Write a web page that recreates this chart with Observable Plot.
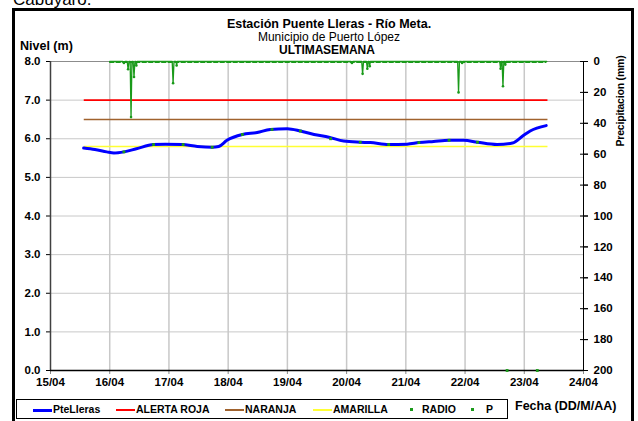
<!DOCTYPE html>
<html><head><meta charset="utf-8">
<script src="https://cdn.jsdelivr.net/npm/d3@7"></script>
<script src="https://cdn.jsdelivr.net/npm/@observablehq/plot@0.6"></script>
<style>
body{margin:0;background:#fff;font-family:"Liberation Sans",Arial,sans-serif;}
#wrap{position:relative;width:638px;height:421px;overflow:hidden;background:#fff;}
#frame{position:absolute;left:12px;top:8px;width:622px;height:440px;border:3px solid #000;box-sizing:border-box;}
.t{position:absolute;white-space:nowrap;color:#000;font-size:11px;line-height:12px;}
.b{font-weight:bold;}
#chart{position:absolute;left:0;top:0;}
#legend{position:absolute;left:16px;top:399px;width:492px;height:20px;border:1px solid #000;box-sizing:border-box;}
.li{position:absolute;top:4px;font-size:10.5px;font-weight:bold;line-height:11px;white-space:nowrap;}
.sw{position:absolute;top:9px;height:2px;width:19px;}
.dot{position:absolute;top:8px;width:3px;height:3px;background:#1a9a1a;}
</style></head>
<body>
<div id="wrap">
  <div class="t" style="left:13px;top:-9px;font-size:17px;line-height:18px;">Cabuyaro.</div>
  <div id="frame"></div>
  <div id="chart"></div>
  <div class="t b" id="title" style="left:209px;top:18px;width:240px;text-align:center;font-size:12.5px;line-height:12px;"></div>
  <div class="t" id="sub1" style="left:209px;top:31px;width:240px;text-align:center;font-size:12px;line-height:12px;"></div>
  <div class="t b" id="sub2" style="left:209px;top:44px;width:236px;text-align:center;font-size:12px;line-height:12px;word-spacing:-3.5px;"></div>
  <div class="t b" id="ylab" style="left:20px;top:40px;font-size:12.5px;line-height:13px;"></div>
  <div class="t b" id="y2lab" style="left:572px;top:95px;width:96px;text-align:center;transform:rotate(-90deg);font-size:10.5px;letter-spacing:-0.2px;"></div>
  <div class="t b" id="xlab" style="left:515px;top:400px;font-size:12.5px;line-height:13px;"></div>
  <div id="legend"></div>
</div>
<script>
// ---- texts ----
const titleText = "Estación Puente Lleras - Río Meta.";
const subtitle1 = "Municipio de Puerto López";
const subtitle2 = "ULTIMA SEMANA";
const yLabel = "Nivel (m)";
const y2Label = "Precipitacion (mm)";
const xLabel = "Fecha (DD/M/AA)";

// ---- ticks ----
const dayTicks = [15, 16, 17, 18, 19, 20, 21, 22, 23, 24];
const xTickLabels = ["15/04","16/04","17/04","18/04","19/04","20/04","21/04","22/04","23/04","24/04"];
const nivelTicks = [0, 1, 2, 3, 4, 5, 6, 7, 8];
const precipTicks = [0, 20, 40, 60, 80, 100, 120, 140, 160, 180, 200];
const precipMax = 200;

// ---- PteLleras level (day of April, metres) ----
const levelDays = [15.56, 15.75, 15.95, 16.07, 16.24, 16.45, 16.74, 16.94, 17.22, 17.48, 17.73, 17.84, 17.98, 18.24, 18.49, 18.71, 19.00, 19.22, 19.45, 19.70, 19.95, 20.23, 20.40, 20.71, 21.02, 21.22, 21.47, 21.73, 21.98, 22.21, 22.54, 22.80, 22.99, 23.10, 23.37];
const levelValues = [5.76, 5.72, 5.66, 5.63, 5.66, 5.74, 5.85, 5.86, 5.85, 5.80, 5.78, 5.80, 5.96, 6.11, 6.16, 6.24, 6.26, 6.20, 6.11, 6.04, 5.94, 5.91, 5.90, 5.85, 5.86, 5.90, 5.93, 5.96, 5.96, 5.91, 5.85, 5.89, 6.09, 6.20, 6.34];

// ---- RADIO readings ----
const radioDays = [16.24, 16.74, 17.24, 17.73, 18.24, 18.74, 19.22, 19.73, 20.23, 20.71, 21.22, 21.73, 22.21, 22.71, 23.22];
const radioValues = [5.66, 5.85, 5.85, 5.78, 6.11, 6.24, 6.20, 6.00, 5.91, 5.85, 5.90, 5.96, 5.91, 0, 0];

// ---- thresholds ----
const thresholdNames = ["ALERTA ROJA", "NARANJA", "AMARILLA"];
const thresholdValues = [7.0, 6.5, 5.8];
const thresholdColors = ["#ff0000", "#a0622d", "#ffff33"];
const thresholdStart = 15.57;
const thresholdEnd = 23.40;

// ---- precipitation P (mm) ----
const pDays = [16.00, 16.22, 16.24, 16.26, 16.295, 16.31, 16.325, 16.345, 16.36, 16.375, 16.395, 16.41, 16.425, 16.44, 16.45, 16.46,
  17.055, 17.07, 17.085, 17.12, 17.13, 17.14,
  20.075, 20.09, 20.105, 20.255, 20.27, 20.285, 20.335, 20.35, 20.365, 20.38, 20.39, 20.40,
  21.875, 21.89, 21.905, 21.94, 21.95, 21.96,
  22.585, 22.60, 22.615, 22.625, 22.64, 22.655, 22.67, 22.68, 22.69, 23.38];
const pValues = [0, 0, 1, 0, 0, 5, 0, 0, 36, 0, 0, 10, 0, 0, 2.6, 0,
  0, 14, 0, 0, 2.6, 0,
  0, 1, 0, 0, 8, 0, 0, 4.7, 0, 0, 3, 0,
  0, 20, 0, 0, 1, 0,
  0, 4.7, 0, 0, 16, 0, 0, 2, 0, 0];
const pStart = 16.0, pEnd = 23.38;

// colours
const blue = "#0000ff", green = "#1a9a1a";

const toNivel = p => 8 - p * 8 / precipMax;
const level = levelDays.map((d, i) => ({d, v: levelValues[i]}));
const radio = radioDays.map((d, i) => ({d, v: radioValues[i]}));
const precip = pDays.map((d, i) => ({d, p: pValues[i]}));
const thresholds = thresholdNames.map((n, i) => ({n, v: thresholdValues[i], c: thresholdColors[i]}));
const xLab = new Map(dayTicks.map((d, i) => [d, xTickLabels[i]]));

const chart = Plot.plot({
  width: 638, height: 400,
  marginLeft: 50, marginRight: 55, marginTop: 61, marginBottom: 30,
  x: {domain: [15, 24], axis: null},
  y: {domain: [0, 8], axis: null},
  style: {fontFamily: "'Liberation Sans', Arial, sans-serif", fontSize: "11.5px", fontWeight: "bold", color: "#000", background: "transparent", overflow: "visible"},
  marks: [
    Plot.gridY(nivelTicks.slice(1, -1), {stroke: "#c8c8c8", strokeOpacity: 1, strokeWidth: 1}),
    Plot.gridX(dayTicks.slice(1, -1), {stroke: "#c8c8c8", strokeOpacity: 1, strokeWidth: 1.5}),
    Plot.ruleY([8], {stroke: "#8c8c8c"}),
    Plot.axisX(dayTicks, {anchor: "bottom", tickFormat: d => xLab.get(d), tickSize: 4, tickPadding: 3, stroke: "#888", label: null}),
    Plot.axisY(nivelTicks, {anchor: "left", tickFormat: d => d.toFixed(1), tickSize: 4, tickPadding: 6, label: null}),
    Plot.axisY(precipTicks.map(toNivel), {anchor: "right", tickFormat: () => "", tickSize: 8, dx: -4, label: null}),
    Plot.axisY(precipTicks.map(toNivel), {anchor: "right", tickFormat: d => String(Math.round((8 - d) * precipMax / 8)), tickSize: 4, tickPadding: 6, label: null}),
    Plot.ruleX([15], {stroke: "#404040", strokeWidth: 1.5}),
    Plot.ruleX([24], {stroke: "#000", strokeWidth: 1}),
    Plot.ruleY([0], {stroke: "#000", strokeWidth: 1.5}),
    Plot.ruleY(thresholds, {y: "v", x1: thresholdStart, x2: thresholdEnd, stroke: "c", strokeWidth: 1.6}),
    Plot.ruleY([0], {y: toNivel(0), x1: pStart, x2: pEnd, stroke: green, strokeWidth: 2.2, strokeDasharray: "5,1.5", dy: 0.5}),
    Plot.line(precip, {x: "d", y: d => toNivel(d.p), stroke: green, strokeWidth: 1.3}),
    Plot.dot(precip.filter(d => d.p > 0), {x: "d", y: d => toNivel(d.p), r: 1.3, fill: green}),
    Plot.line(level, {x: "d", y: "v", stroke: blue, strokeWidth: 3, curve: "monotone-x"}),
    Plot.dot(radio, {x: "d", y: "v", r: 1.6, fill: green, symbol: "square"})
  ]
});
document.getElementById("chart").appendChild(chart);

document.getElementById("title").textContent = titleText;
document.getElementById("sub1").textContent = subtitle1;
document.getElementById("sub2").textContent = subtitle2;
document.getElementById("ylab").textContent = yLabel;
document.getElementById("y2lab").textContent = y2Label;
document.getElementById("xlab").textContent = xLabel;

// legend
const legendItems = [
  {name: "PteLleras", type: "line", color: blue, x: 16, w: 3},
  {name: thresholdNames[0], type: "line", color: thresholdColors[0], x: 99, w: 1.6},
  {name: thresholdNames[1], type: "line", color: thresholdColors[1], x: 208, w: 1.6},
  {name: thresholdNames[2], type: "line", color: thresholdColors[2], x: 296, w: 1.6},
  {name: "RADIO", type: "dot", color: green, x: 393, gap: 12},
  {name: "P", type: "dot", color: green, x: 454, gap: 15}
];
const lg = document.getElementById("legend");
for (const it of legendItems) {
  if (it.type === "line") {
    const s = document.createElement("div");
    s.className = "sw";
    s.style.left = it.x + "px";
    s.style.background = it.color;
    s.style.height = it.w + "px";
    s.style.top = (9 - it.w / 2 + 1) + "px";
    lg.appendChild(s);
    const t = document.createElement("div");
    t.className = "li"; t.style.left = (it.x + 20) + "px"; t.textContent = it.name;
    lg.appendChild(t);
  } else {
    const s = document.createElement("div");
    s.className = "dot"; s.style.left = it.x + "px";
    lg.appendChild(s);
    const t = document.createElement("div");
    t.className = "li"; t.style.left = (it.x + it.gap) + "px"; t.textContent = it.name;
    lg.appendChild(t);
  }
}
</script>
</body></html>
